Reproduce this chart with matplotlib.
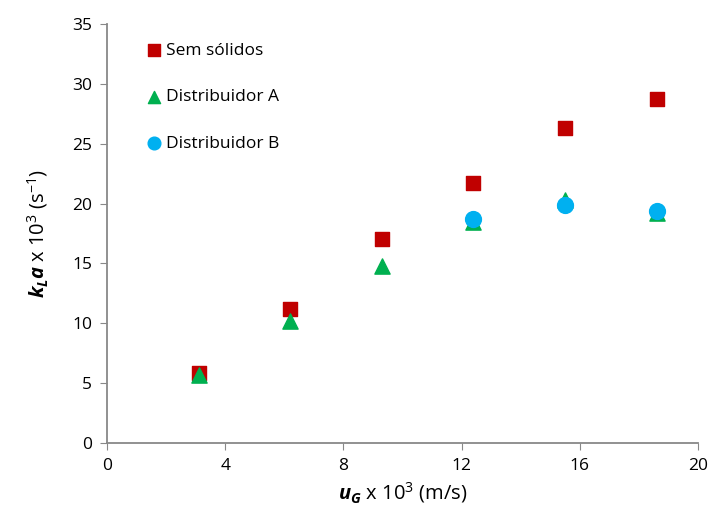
import matplotlib
matplotlib.use("Agg")
import matplotlib.pyplot as plt

# velocidade superficial do gas (x 10^3 m/s)
ug = [3.1, 6.2, 9.3, 12.4, 15.5, 18.6]
sem_solidos = [5.85, 11.2, 17.05, 21.7, 26.3, 28.75]
distrib_a = [5.7, 10.2, 14.8, 18.5, 20.3, 19.2]
ug_b = [12.4, 15.5, 18.6]
distrib_b = [18.7, 19.9, 19.4]

plt.rcParams['font.family'] = ['Open Sans', 'DejaVu Sans']
plt.rcParams['mathtext.fontset'] = 'custom'
plt.rcParams['mathtext.rm'] = 'Open Sans'
plt.rcParams['mathtext.it'] = 'Open Sans:italic'
plt.rcParams['mathtext.bf'] = 'Open Sans:bold'
plt.rcParams['mathtext.bfit'] = 'Open Sans:bold:italic'

fig = plt.figure(figsize=(7.1, 5.15), dpi=100)
ax = fig.add_axes([0.151, 0.14, 0.832, 0.813])

ax.scatter(ug, sem_solidos, marker='s', s=100, color='#C00000', label='Sem sólidos', zorder=3)
ax.scatter(ug, distrib_a, marker='^', s=120, color='#00B050', label='Distribuidor A', zorder=3)
ax.scatter(ug_b, distrib_b, marker='o', s=130, color='#00B0F0', label='Distribuidor B', zorder=4)

ax.set_xlim(0, 20)
ax.set_ylim(0, 35)
ax.set_xticks(range(0, 21, 4))
ax.set_yticks(range(0, 36, 5))

for s in ['top', 'right']:
    ax.spines[s].set_visible(False)
for s in ['left', 'bottom']:
    ax.spines[s].set_color('#888888')
    ax.spines[s].set_linewidth(1.3)
ax.tick_params(direction='out', length=5, color='#888888', labelsize=12.5, pad=6)

ax.set_xlabel(r'$\mathbfit{u_G}$ x 10$^3$ (m/s)', fontsize=14.5, labelpad=4)
ax.set_ylabel(r'$\mathbfit{k_La}$ x 10$^3$ (s$^{-1}$)', fontsize=14.5, labelpad=16)

leg = ax.legend(loc='upper left', bbox_to_anchor=(0.045, 0.985), frameon=False,
                fontsize=12.5, handlelength=0.9, handletextpad=0.25, labelspacing=1.75,
                markerscale=0.8, borderaxespad=0.3)

fig.savefig('out.png', dpi=100)
